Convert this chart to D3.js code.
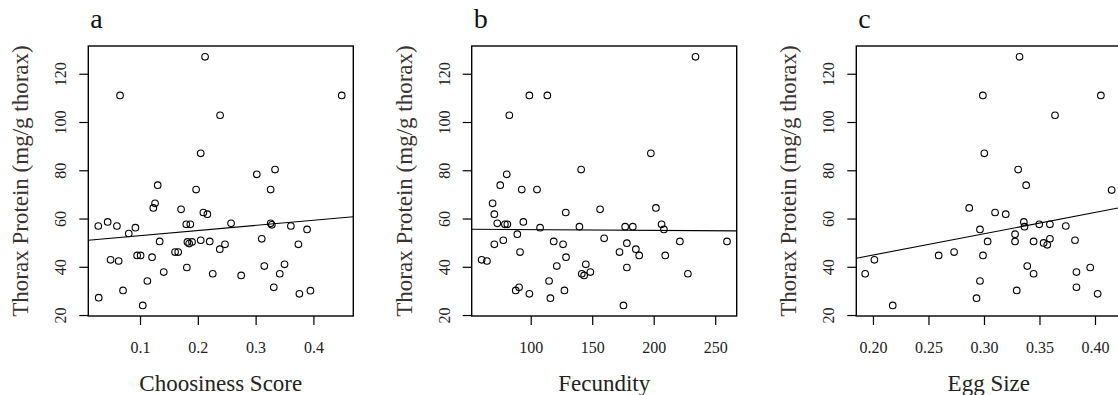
<!DOCTYPE html>
<html>
<head>
<meta charset="utf-8">
<script src="https://cdnjs.cloudflare.com/ajax/libs/d3/7.8.5/d3.min.js"></script>
<style>
  html, body { margin: 0; padding: 0; background: #fff; }
  svg { display: block; }
  text { font-family: "Liberation Serif", "Times New Roman", serif; }
</style>
</head>
<body>
<div class="chart"></div>
<script>
// Data.
const panelLetters = ['a', 'b', 'c'];
const xTitles = ['Choosiness Score', 'Fecundity', 'Egg Size'];
const yTitle = 'Thorax Protein (mg/g thorax)';
const yTicks = [20, 40, 60, 80, 100, 120];
const xTicksA = [0.1, 0.2, 0.3, 0.4];
const xTicksB = [100, 150, 200, 250];
const xTicksC = [0.20, 0.25, 0.30, 0.35, 0.40];

const choosinessX = [0.2125, 0.0654, 0.449, 0.2385, 0.205, 0.302, 0.3336, 0.1306, 0.197, 0.326,
    0.126, 0.123, 0.171, 0.2096, 0.2165, 0.0278, 0.044, 0.060, 0.0805, 0.092,
    0.180, 0.187, 0.2575, 0.326, 0.328, 0.361, 0.389, 0.134, 0.182, 0.185,
    0.190, 0.205, 0.2206, 0.247, 0.238, 0.3106, 0.374, 0.095, 0.101, 0.1208,
    0.1606, 0.166, 0.049, 0.063, 0.181, 0.141, 0.2258, 0.275, 0.315, 0.35,
    0.3418, 0.3314, 0.1127, 0.0706, 0.0285, 0.1047, 0.3757, 0.3948];
const choosinessY = [127, 111, 111, 102.8, 87, 78.3, 80.3, 73.8, 72.0, 72.0,
    66.3, 64.4, 63.8, 62.5, 61.8, 56.9, 58.6, 56.9, 53.8, 56.2,
    57.6, 57.6, 58.0, 58.0, 57.4, 56.9, 55.5, 50.5, 50.3, 49.6,
    50.3, 51, 50.5, 49.3, 47.3, 51.6, 49.3, 44.7, 44.7, 44,
    46.1, 46.1, 42.9, 42.4, 39.7, 37.8, 37.1, 36.4, 40.3, 41,
    37.1, 31.5, 34.1, 30.2, 27.2, 24.0, 28.8, 30.1];

const fecundityX = [234, 98.9, 113.5, 82.6, 197.7, 141, 80.5, 75.2, 92.7, 105.1,
    69, 156.4, 201.8, 128.5, 70.4, 72.8, 94, 79, 81, 206.4,
    208.3, 107.6, 139.6, 176.8, 183, 89.1, 77.7, 70.4, 159.7, 118.7,
    126.3, 178.2, 221.3, 259.6, 91.3, 172.2, 185.5, 188.2, 209.4, 128.7,
    60.1, 64.4, 121.2, 144.8, 178.2, 141.5, 143.4, 148.5, 227.8, 114.9,
    87.8, 90.5, 127.4, 98.9, 116, 175.4];
const fecundityY = [127, 111, 111, 102.8, 87, 80.3, 78.3, 73.8, 72, 72,
    66.3, 63.8, 64.4, 62.5, 61.8, 58.0, 58.6, 57.6, 57.6, 57.6,
    55.5, 56.2, 56.6, 56.6, 56.6, 53.5, 51, 49.3, 51.8, 50.5,
    49.3, 49.8, 50.5, 50.5, 46.1, 46.1, 47.3, 44.7, 44.7, 44,
    42.9, 42.4, 40.3, 41, 39.7, 37.1, 36.4, 37.8, 37.1, 34.1,
    30.2, 31.5, 30.2, 28.8, 27.0, 24];

const eggSizeX = [0.332, 0.299, 0.4053, 0.364, 0.3003, 0.3308, 0.415, 0.338, 0.2867, 0.31,
    0.3196, 0.3359, 0.3365, 0.3498, 0.3594, 0.3737, 0.2964, 0.328, 0.3033, 0.328,
    0.3447, 0.3537, 0.357, 0.3594, 0.382, 0.2013, 0.193, 0.2592, 0.2731, 0.2991,
    0.339, 0.3447, 0.3833, 0.3957, 0.2964, 0.2933, 0.3295, 0.3833, 0.4024, 0.2178];
const eggSizeY = [127, 111, 111, 102.8, 87, 80.3, 71.8, 73.8, 64.4, 62.5,
    61.8, 58.6, 56.6, 57.6, 57.6, 56.9, 55.5, 53.5, 50.5, 50.5,
    50.5, 49.9, 49.1, 51.6, 51, 42.9, 37.1, 44.7, 46.1, 44.7,
    40.3, 37.1, 37.8, 39.7, 34.1, 27.0, 30.2, 31.5, 28.8, 24];

// Fitted lines (intercept, slope) as drawn in the picture.
const fitIntercepts = [50.78, 55.7, 27.2];
const fitSlopes = [21.2, -0.003, 88.3];

// Layout.
const W = 1118, H = 395,
    plotTop = 46, plotH = 270, plotW = 265,
    plotLefts = [88.3, 471.7, 856.3],
    xDomains = [[0.0105, 0.469], [52, 267.5], [0.185, 0.4237]],
    yDomain = [19.6, 131.5],
    tickLen = 9,
    textColor = '#222';

const panels = [
    { xs: choosinessX, ys: choosinessY, ticks: xTicksA, fmt: d3.format('.1f') },
    { xs: fecundityX, ys: fecundityY, ticks: xTicksB, fmt: d3.format('d') },
    { xs: eggSizeX, ys: eggSizeY, ticks: xTicksC, fmt: d3.format('.2f') }
];

const svg = d3.select('.chart')
    .append('svg')
        .attr('width', W)
        .attr('height', H);

panels.forEach((p, i) => {
    const left = plotLefts[i];
    const g = svg.append('g').attr('transform', `translate(${left},${plotTop})`);

    const x = d3.scaleLinear().domain(xDomains[i]).range([0, plotW]);
    const y = d3.scaleLinear().domain(yDomain).range([plotH, 0]);

    const clipId = 'clip' + i;
    g.append('clipPath').attr('id', clipId)
        .append('rect').attr('width', plotW).attr('height', plotH);

    // Axes.
    const xAxis = g.append('g')
        .attr('transform', `translate(0,${plotH})`)
        .call(d3.axisBottom(x).tickValues(p.ticks).tickSize(tickLen).tickFormat(p.fmt));
    xAxis.select('.domain').remove();
    xAxis.selectAll('line').attr('stroke', '#000').attr('stroke-width', 1.2);
    xAxis.selectAll('text')
        .attr('y', 36.5).attr('dy', 0)
        .attr('fill', textColor)
        .style('font-size', '16px');

    const yAxis = g.append('g')
        .call(d3.axisLeft(y).tickValues(yTicks).tickSize(tickLen));
    yAxis.select('.domain').remove();
    yAxis.selectAll('line').attr('stroke', '#000').attr('stroke-width', 1.2);
    yAxis.selectAll('text')
        .attr('x', null).attr('dy', null)
        .attr('text-anchor', 'middle')
        .attr('transform', 'translate(-22,0) rotate(-90)')
        .attr('fill', textColor)
        .style('font-size', '16px');
    yAxis.attr('font-family', null).attr('font-size', null);
    xAxis.attr('font-family', null).attr('font-size', null);

    // Regression line.
    const [x0, x1] = x.domain();
    g.append('line')
        .attr('clip-path', `url(#${clipId})`)
        .attr('x1', x(x0)).attr('y1', y(fitIntercepts[i] + fitSlopes[i] * x0))
        .attr('x2', x(x1)).attr('y2', y(fitIntercepts[i] + fitSlopes[i] * x1))
        .attr('stroke', '#000')
        .attr('stroke-width', 1.1);

    // Points.
    g.append('g')
        .selectAll('circle')
        .data(p.xs.map((v, j) => [v, p.ys[j]]))
        .join('circle')
            .attr('cx', d => x(d[0]))
            .attr('cy', d => y(d[1]))
            .attr('r', 3.3)
            .attr('fill', 'none')
            .attr('stroke', '#000')
            .attr('stroke-width', 1.1);

    // Box.
    g.append('rect')
        .attr('width', plotW).attr('height', plotH)
        .attr('fill', 'none')
        .attr('stroke', '#000')
        .attr('stroke-width', 1.4);

    // Titles.
    g.append('text')
        .attr('x', plotW / 2).attr('y', 391 - plotTop)
        .attr('text-anchor', 'middle')
        .attr('fill', textColor)
        .style('font-size', '23px')
        .text(xTitles[i]);

    g.append('text')
        .attr('transform', `translate(-60,${plotH / 2}) rotate(-90)`)
        .attr('text-anchor', 'middle')
        .attr('fill', '#3a3430')
        .style('font-size', '23px')
        .text(yTitle);

    g.append('text')
        .attr('x', 2).attr('y', 28 - plotTop)
        .attr('fill', '#111')
        .style('font-size', '28px')
        .text(panelLetters[i]);
});
</script>
</body>
</html>
